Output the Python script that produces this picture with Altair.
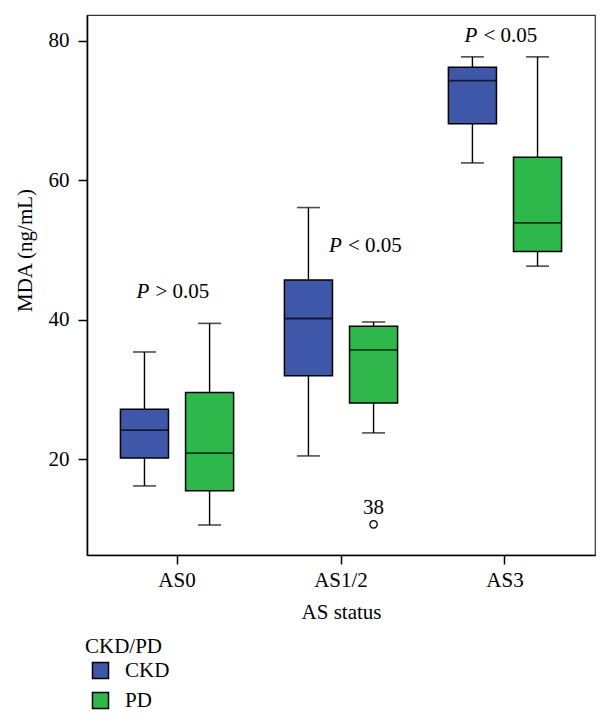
import altair as alt
import pandas as pd

# ---- data ----
status = ["AS0", "AS0", "AS1/2", "AS1/2", "AS3", "AS3"]
group = ["CKD", "PD", "CKD", "PD", "CKD", "PD"]
low = [16.2, 10.6, 20.5, 23.8, 62.5, 47.7]
q1 = [20.2, 15.5, 32.0, 28.1, 68.1, 49.8]
median = [24.2, 20.9, 40.2, 35.7, 74.3, 53.9]
q3 = [27.2, 29.6, 45.7, 39.1, 76.2, 63.3]
high = [35.4, 39.5, 56.1, 39.7, 77.7, 77.7]

out_status = ["AS1/2"]
out_group = ["PD"]
out_value = [10.7]
out_label = ["38"]

ann_status = ["AS0", "AS3"]
ann_sign = ["> 0.05", "< 0.05"]
ann_value = [43.2, 79.9]
ann2_status = ["AS1/2"]
ann2_sign = ["< 0.05"]
ann2_value = [49.8]

categories = ["AS0", "AS1/2", "AS3"]
groups = ["CKD", "PD"]
colors = ["#3E57A8", "#2EB84B"]
y_ticks = [20, 40, 60, 80]

FONT = "Liberation Serif"
FS = 21

box = pd.DataFrame({"status": status, "group": group, "low": low, "q1": q1,
                    "median": median, "q3": q3, "high": high})
outl = pd.DataFrame({"status": out_status, "group": out_group,
                     "value": out_value, "label": out_label})
ann = pd.DataFrame({"status": ann_status, "sign": ann_sign, "value": ann_value})
ann2 = pd.DataFrame({"status": ann2_status, "sign": ann2_sign, "value": ann2_value})

X = alt.X("status:N", title="AS status",
          scale=alt.Scale(domain=categories, paddingInner=0, paddingOuter=0.049),
          axis=alt.Axis(labelAngle=0, labelPadding=5, titlePadding=11))
XO = alt.XOffset("group:N", scale=alt.Scale(domain=groups, paddingInner=0.262, paddingOuter=0.39))


def Y(field):
    return alt.Y(f"{field}:Q", title="MDA (ng/mL)",
                 scale=alt.Scale(domain=[6.3, 83.7], nice=False, zero=False),
                 axis=alt.Axis(values=y_ticks, labelPadding=9, titleAngle=270,
                               titleX=-62, titleY=235, titleBaseline="middle",
                               titleAlign="center"))


base = alt.Chart(box)

whisk_lo = base.mark_rule(color="black", strokeWidth=1.4).encode(
    x=X, xOffset=XO, y=Y("low"), y2="q1:Q")
whisk_hi = base.mark_rule(color="black", strokeWidth=1.4).encode(
    x=X, xOffset=XO, y=Y("q3"), y2="high:Q")
cap_lo = base.mark_tick(color="black", size=23, thickness=1.6).encode(
    x=X, xOffset=XO, y=Y("low"))
cap_hi = base.mark_tick(color="black", size=23, thickness=1.6).encode(
    x=X, xOffset=XO, y=Y("high"))
boxes = base.mark_bar(stroke="black", strokeWidth=1.5).encode(
    x=X, xOffset=XO, y=Y("q1"), y2="q3:Q",
    color=alt.Color("group:N",
                    scale=alt.Scale(domain=groups, range=colors),
                    legend=alt.Legend(orient="none", legendX=-2, legendY=621,
                                      title="CKD/PD", symbolType="square",
                                      symbolSize=256, symbolStrokeColor="black",
                                      symbolStrokeWidth=1.5, symbolOffset=5,
                                      labelOffset=14, rowPadding=7, titlePadding=3,
                                      labelFontSize=FS, titleFontSize=FS,
                                      labelFont=FONT, titleFont=FONT,
                                      titleFontWeight="normal", labelColor="black",
                                      titleColor="black")))
med = base.mark_tick(color="black", size=48, thickness=1.8).encode(
    x=X, xOffset=XO, y=Y("median"))

opoint = alt.Chart(outl).mark_point(shape="circle", size=55, filled=False,
                                    color="black", strokeWidth=1.3, opacity=1).encode(
    x=X, xOffset=XO, y=Y("value"))
olabel = alt.Chart(outl).mark_text(font=FONT, fontSize=FS, color="black",
                                   baseline="alphabetic", dy=-10).encode(
    x=X, xOffset=XO, y=Y("value"), text="label:N")

p1 = alt.Chart(ann).mark_text(text="P", font=FONT, fontSize=FS, fontStyle="italic",
                              color="black", align="left", baseline="alphabetic",
                              dx=-40.5).encode(x=X, y=Y("value"))
s1 = alt.Chart(ann).mark_text(font=FONT, fontSize=FS, color="black", align="left",
                              baseline="alphabetic", dx=-21.5).encode(
    x=X, y=Y("value"), text="sign:N")
p2 = alt.Chart(ann2).mark_text(text="P", font=FONT, fontSize=FS, fontStyle="italic",
                               color="black", align="left", baseline="alphabetic",
                               dx=-12).encode(x=X, y=Y("value"))
s2 = alt.Chart(ann2).mark_text(font=FONT, fontSize=FS, color="black", align="left",
                               baseline="alphabetic", dx=7).encode(
    x=X, y=Y("value"), text="sign:N")

chart = alt.layer(whisk_lo, whisk_hi, cap_lo, cap_hi, boxes, med, opoint, olabel,
                  p1, s1, p2, s2).properties(
    width=508, height=540,
    autosize=alt.AutoSizeParams(type="none"),
    padding={"left": 79, "top": 7, "right": 7, "bottom": 156},
).configure_view(stroke="#333", strokeWidth=1.2).configure_axis(
    grid=False, domainColor="black", domainWidth=1.6, tickColor="black",
    tickWidth=1.5, tickSize=9, labelFont=FONT, labelFontSize=FS,
    labelColor="black", titleFont=FONT, titleFontSize=FS,
    titleFontWeight="normal", titleColor="black")

chart.save("out.html", embed_options={"renderer": "svg", "actions": False})
